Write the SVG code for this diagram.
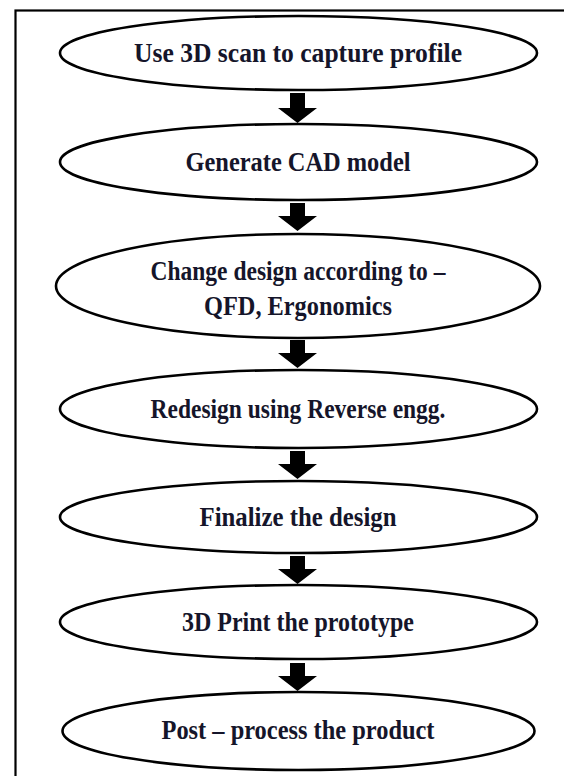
<svg xmlns="http://www.w3.org/2000/svg" width="564" height="776" viewBox="0 0 564 776">
<style>
.bg{fill:#ffffff}
.frame{fill:none;stroke:#000;stroke-width:2.2}
.node ellipse{fill:#fff;stroke:#000;stroke-width:2.6}
.node text{font-family:"Liberation Serif","Times New Roman",serif;font-weight:bold;font-size:27px;fill:#15152a;text-anchor:middle}
.arrow{fill:#000;stroke:none}
</style>
<rect class="bg" x="0" y="0" width="564" height="776"/>
<rect class="frame" x="15.5" y="10.5" width="580" height="800"/>
<g id="connectors">
<path class="arrow" d="M290 93H305V108H317L297.5 123L278 108H290Z"/>
<path class="arrow" d="M290 203H305V216H317L297.5 231L278 216H290Z"/>
<path class="arrow" d="M290 340H305V353H317L297.5 368L278 353H290Z"/>
<path class="arrow" d="M290 451H305V464H317L297.5 479L278 464H290Z"/>
<path class="arrow" d="M290 556H305V569H317L297.5 584L278 569H290Z"/>
<path class="arrow" d="M290 663H305V676H317L297.5 691L278 676H290Z"/>
</g>
<g id="n1" class="node"><ellipse cx="298.5" cy="53" rx="238.5" ry="37"/><text x="298" y="62" textLength="328" lengthAdjust="spacingAndGlyphs">Use 3D scan to capture profile</text></g>
<g id="n2" class="node"><ellipse cx="298.5" cy="162" rx="238.5" ry="38"/><text x="298" y="171" textLength="225" lengthAdjust="spacingAndGlyphs">Generate CAD model</text></g>
<g id="n3" class="node"><ellipse cx="298" cy="286" rx="242" ry="52"/><text x="298" y="280" textLength="295" lengthAdjust="spacingAndGlyphs">Change design according to –</text><text x="298" y="315" textLength="188" lengthAdjust="spacingAndGlyphs">QFD, Ergonomics</text></g>
<g id="n4" class="node"><ellipse cx="298.5" cy="409" rx="238.5" ry="39"/><text x="298" y="418" textLength="295" lengthAdjust="spacingAndGlyphs">Redesign using Reverse engg.</text></g>
<g id="n5" class="node"><ellipse cx="298.5" cy="517" rx="238.5" ry="36"/><text x="298" y="526" textLength="197" lengthAdjust="spacingAndGlyphs">Finalize the design</text></g>
<g id="n6" class="node"><ellipse cx="298.5" cy="622" rx="238.5" ry="37"/><text x="298" y="631" textLength="232" lengthAdjust="spacingAndGlyphs">3D Print the prototype</text></g>
<g id="n7" class="node"><ellipse cx="298.5" cy="731" rx="236" ry="39"/><text x="298" y="739" textLength="273" lengthAdjust="spacingAndGlyphs">Post – process the product</text></g>
</svg>
